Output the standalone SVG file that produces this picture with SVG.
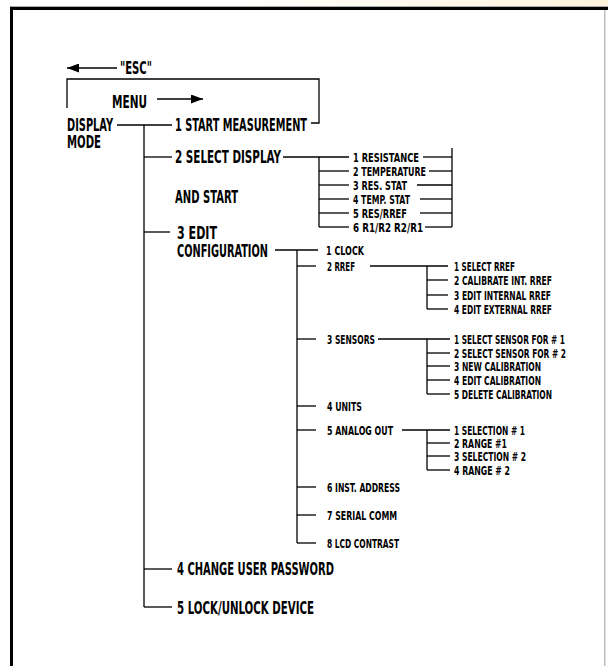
<svg xmlns="http://www.w3.org/2000/svg" width="608" height="666" viewBox="0 0 608 666">
<defs>
<linearGradient id="topg" x1="0" y1="0" x2="1" y2="0">
<stop offset="0" stop-color="#ffffff"/>
<stop offset="0.35" stop-color="#ffffff"/>
<stop offset="1" stop-color="#fff3dc"/>
</linearGradient>
<marker id="ah" viewBox="0 0 12 9" refX="12" refY="4.5" markerWidth="12" markerHeight="9" markerUnits="userSpaceOnUse" orient="auto">
<path d="M0,0 L12,4.5 L0,9 Z" fill="#000"/>
</marker>
<style>
.m{font-family:"DejaVu Sans Condensed","DejaVu Sans",sans-serif;font-weight:bold;font-size:17.5px;fill:#000}
.s{font-family:"DejaVu Sans Condensed","DejaVu Sans",sans-serif;font-weight:bold;font-size:13px;fill:#000}
.c line,.c path{stroke:#000;stroke-width:1.3;fill:none}
</style>
</defs>
<rect x="0" y="0" width="608" height="666" fill="#fff"/>
<rect x="0" y="0" width="608" height="6" fill="url(#topg)"/>
<g id="frame">
<rect x="10" y="6" width="598" height="1" fill="#aaa"/>
<rect x="10" y="7" width="598" height="3" fill="#000"/>
<rect x="10" y="7" width="3" height="659" fill="#000"/>
<rect x="604" y="10" width="1.5" height="656" fill="#bbb"/>
</g>
<g id="connectors" class="c">
<line x1="117" y1="68" x2="67" y2="68" marker-end="url(#ah)"/>
<line x1="157" y1="99" x2="203" y2="99" marker-end="url(#ah)"/>
<path d="M67,108 V79 H319 V123 H311"/>
<line x1="117" y1="125" x2="172" y2="125"/>
<line x1="144" y1="125" x2="144" y2="607"/>
<line x1="144" y1="157" x2="172" y2="157"/>
<line x1="144" y1="232" x2="170" y2="232"/>
<line x1="144" y1="569" x2="172" y2="569"/>
<line x1="144" y1="607" x2="172" y2="607"/>
<line x1="283" y1="157" x2="349" y2="157"/>
<line x1="319" y1="157" x2="319" y2="227"/>
<line x1="319" y1="171" x2="349" y2="171"/>
<line x1="319" y1="185" x2="349" y2="185"/>
<line x1="319" y1="199" x2="349" y2="199"/>
<line x1="319" y1="213" x2="349" y2="213"/>
<line x1="319" y1="227" x2="349" y2="227"/>
<line x1="452" y1="148" x2="452" y2="227"/>
<line x1="423" y1="157" x2="452" y2="157"/>
<line x1="429" y1="171" x2="452" y2="171"/>
<line x1="417" y1="185" x2="452" y2="185"/>
<line x1="420" y1="199" x2="452" y2="199"/>
<line x1="420" y1="213" x2="452" y2="213"/>
<line x1="425" y1="227" x2="452" y2="227"/>
<line x1="275" y1="250" x2="318" y2="250"/>
<line x1="297" y1="250" x2="297" y2="543"/>
<line x1="297" y1="266" x2="316" y2="266"/>
<line x1="297" y1="339" x2="316" y2="339"/>
<line x1="297" y1="406" x2="316" y2="406"/>
<line x1="297" y1="430" x2="316" y2="430"/>
<line x1="297" y1="487" x2="316" y2="487"/>
<line x1="297" y1="515" x2="316" y2="515"/>
<line x1="297" y1="543" x2="316" y2="543"/>
<line x1="370" y1="266" x2="448" y2="266"/>
<line x1="427" y1="266" x2="427" y2="309"/>
<line x1="427" y1="280" x2="448" y2="280"/>
<line x1="427" y1="295" x2="448" y2="295"/>
<line x1="427" y1="309" x2="448" y2="309"/>
<line x1="378" y1="339" x2="450" y2="339"/>
<line x1="427" y1="339" x2="427" y2="394"/>
<line x1="427" y1="353" x2="450" y2="353"/>
<line x1="427" y1="366" x2="450" y2="366"/>
<line x1="427" y1="380" x2="450" y2="380"/>
<line x1="427" y1="394" x2="450" y2="394"/>
<line x1="402" y1="430" x2="450" y2="430"/>
<line x1="427" y1="430" x2="427" y2="470"/>
<line x1="427" y1="443" x2="450" y2="443"/>
<line x1="427" y1="456" x2="450" y2="456"/>
<line x1="427" y1="470" x2="450" y2="470"/>
</g>
<g id="esc"><text class="m" x="120" y="74" textLength="32" lengthAdjust="spacingAndGlyphs">"ESC"</text></g>
<g id="menu"><text class="m" x="112" y="108" textLength="35" lengthAdjust="spacingAndGlyphs">MENU</text></g>
<g id="display-mode">
<text class="m" x="67" y="131" textLength="46" lengthAdjust="spacingAndGlyphs">DISPLAY</text>
<text class="m" x="67" y="148" textLength="34" lengthAdjust="spacingAndGlyphs">MODE</text>
</g>
<g id="n1"><text class="m" x="175" y="131" textLength="132" lengthAdjust="spacingAndGlyphs">1 START MEASUREMENT</text></g>
<g id="n2">
<text class="m" x="175" y="163" textLength="106" lengthAdjust="spacingAndGlyphs">2 SELECT DISPLAY</text>
<text class="m" x="175" y="203" textLength="63" lengthAdjust="spacingAndGlyphs">AND START</text>
</g>
<g id="n2-sub">
<text class="s" x="353" y="162" textLength="66" lengthAdjust="spacingAndGlyphs">1 RESISTANCE</text>
<text class="s" x="353" y="176" textLength="73" lengthAdjust="spacingAndGlyphs">2 TEMPERATURE</text>
<text class="s" x="353" y="190" textLength="54" lengthAdjust="spacingAndGlyphs">3 RES. STAT</text>
<text class="s" x="353" y="204" textLength="57" lengthAdjust="spacingAndGlyphs">4 TEMP. STAT</text>
<text class="s" x="353" y="218" textLength="54" lengthAdjust="spacingAndGlyphs">5 RES/RREF</text>
<text class="s" x="353" y="232" textLength="70" lengthAdjust="spacingAndGlyphs">6 R1/R2 R2/R1</text>
</g>
<g id="n3">
<text class="m" x="177" y="239" textLength="40" lengthAdjust="spacingAndGlyphs">3 EDIT</text>
<text class="m" x="177" y="257" textLength="91" lengthAdjust="spacingAndGlyphs">CONFIGURATION</text>
</g>
<g id="c1"><text class="s" x="326" y="255" textLength="38" lengthAdjust="spacingAndGlyphs">1 CLOCK</text></g>
<g id="c2"><text class="s" x="327" y="271" textLength="28" lengthAdjust="spacingAndGlyphs">2 RREF</text></g>
<g id="c2-sub">
<text class="s" x="454" y="271" textLength="61" lengthAdjust="spacingAndGlyphs">1 SELECT RREF</text>
<text class="s" x="454" y="285" textLength="98" lengthAdjust="spacingAndGlyphs">2 CALIBRATE INT. RREF</text>
<text class="s" x="454" y="300" textLength="97" lengthAdjust="spacingAndGlyphs">3 EDIT INTERNAL RREF</text>
<text class="s" x="454" y="314" textLength="98" lengthAdjust="spacingAndGlyphs">4 EDIT EXTERNAL RREF</text>
</g>
<g id="c3"><text class="s" x="327" y="344" textLength="48" lengthAdjust="spacingAndGlyphs">3 SENSORS</text></g>
<g id="c3-sub">
<text class="s" x="454" y="344" textLength="111" lengthAdjust="spacingAndGlyphs">1 SELECT SENSOR FOR # 1</text>
<text class="s" x="454" y="358" textLength="112" lengthAdjust="spacingAndGlyphs">2 SELECT SENSOR FOR # 2</text>
<text class="s" x="454" y="371" textLength="87" lengthAdjust="spacingAndGlyphs">3 NEW CALIBRATION</text>
<text class="s" x="454" y="385" textLength="87" lengthAdjust="spacingAndGlyphs">4 EDIT CALIBRATION</text>
<text class="s" x="454" y="399" textLength="98" lengthAdjust="spacingAndGlyphs">5 DELETE CALIBRATION</text>
</g>
<g id="c4"><text class="s" x="327" y="411" textLength="35" lengthAdjust="spacingAndGlyphs">4 UNITS</text></g>
<g id="c5"><text class="s" x="327" y="435" textLength="66" lengthAdjust="spacingAndGlyphs">5 ANALOG OUT</text></g>
<g id="c5-sub">
<text class="s" x="454" y="435" textLength="71" lengthAdjust="spacingAndGlyphs">1 SELECTION # 1</text>
<text class="s" x="454" y="448" textLength="53" lengthAdjust="spacingAndGlyphs">2 RANGE #1</text>
<text class="s" x="454" y="461" textLength="72" lengthAdjust="spacingAndGlyphs">3 SELECTION # 2</text>
<text class="s" x="454" y="475" textLength="56" lengthAdjust="spacingAndGlyphs">4 RANGE # 2</text>
</g>
<g id="c6"><text class="s" x="327" y="492" textLength="73" lengthAdjust="spacingAndGlyphs">6 INST. ADDRESS</text></g>
<g id="c7"><text class="s" x="327" y="520" textLength="70" lengthAdjust="spacingAndGlyphs">7 SERIAL COMM</text></g>
<g id="c8"><text class="s" x="327" y="548" textLength="72" lengthAdjust="spacingAndGlyphs">8 LCD CONTRAST</text></g>
<g id="n4"><text class="m" x="177" y="575" textLength="157" lengthAdjust="spacingAndGlyphs">4 CHANGE USER PASSWORD</text></g>
<g id="n5"><text class="m" x="177" y="614" textLength="137" lengthAdjust="spacingAndGlyphs">5 LOCK/UNLOCK DEVICE</text></g>
</svg>
